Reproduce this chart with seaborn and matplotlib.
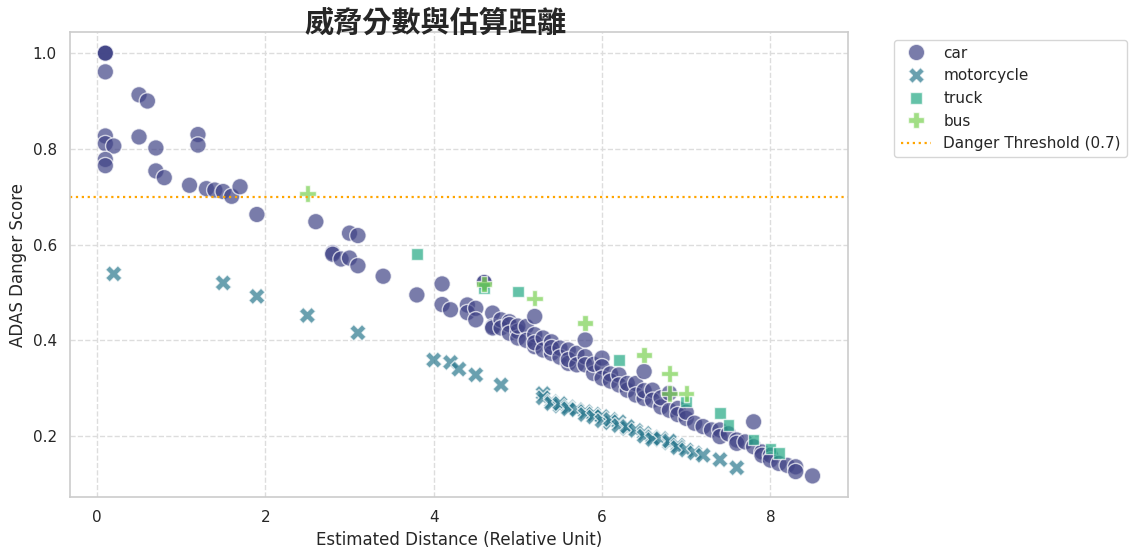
import matplotlib
matplotlib.use("Agg")
import matplotlib.pyplot as plt
import seaborn as sns
import pandas as pd

car_x = [0.1, 0.1, 0.1, 0.1, 0.5, 0.6, 0.1, 0.1, 0.2, 0.1, 0.1, 0.5, 0.7, 1.2, 1.2,
         0.7, 0.8, 1.1, 1.3, 1.4, 1.5, 1.6, 1.7, 1.9, 2.6, 3.0, 3.1, 2.8, 2.8, 2.9,
         3.0, 3.1, 3.4, 3.8, 4.1, 4.1, 4.2,
         4.4, 4.4, 4.5, 4.5, 4.6, 4.6, 4.7, 4.7, 4.7, 4.8, 4.8, 4.9, 4.9, 4.9, 5.0,
         5.0, 5.0, 5.1, 5.1, 5.2, 5.2, 5.2, 5.2, 5.3, 5.3, 5.4, 5.4, 5.4, 5.5, 5.5,
         5.6, 5.6, 5.6, 5.7, 5.7, 5.8, 5.8, 5.8, 5.9, 5.9, 6.0, 6.0, 6.0, 6.1, 6.1,
         6.2, 6.2, 6.3, 6.3, 6.4, 6.4, 6.5, 6.5, 6.5, 6.6, 6.6, 6.7, 6.7, 6.8, 6.8,
         6.9, 6.9, 7.0, 7.0, 7.1, 7.2, 7.3, 7.4, 7.4, 7.5, 7.6, 7.6, 7.7, 7.8, 7.8,
         7.9, 7.9, 8.0, 8.0, 8.1, 8.2, 8.3, 8.3, 8.5]
car_y = [1.0, 1.0, 1.0, 0.961, 0.913, 0.90, 0.827, 0.811, 0.806, 0.778, 0.765, 0.825, 0.802, 0.830, 0.808,
         0.754, 0.740, 0.724, 0.717, 0.714, 0.711, 0.701, 0.721, 0.663, 0.648, 0.624, 0.619, 0.583, 0.580, 0.570,
         0.572, 0.556, 0.534, 0.495, 0.518, 0.475, 0.464,
         0.474, 0.458, 0.467, 0.443, 0.521, 0.521, 0.457, 0.429, 0.426, 0.443, 0.426, 0.439, 0.433, 0.415, 0.419,
         0.405, 0.430, 0.429, 0.400, 0.450, 0.412, 0.387, 0.395, 0.405, 0.380, 0.397, 0.373, 0.385, 0.384, 0.365,
         0.380, 0.352, 0.360, 0.373, 0.349, 0.401, 0.366, 0.349, 0.331, 0.350, 0.363, 0.345, 0.321, 0.330, 0.315,
         0.328, 0.307, 0.296, 0.310, 0.310, 0.286, 0.335, 0.279, 0.295, 0.296, 0.275, 0.261, 0.280, 0.254, 0.290,
         0.258, 0.245, 0.237, 0.250, 0.227, 0.220, 0.213, 0.213, 0.199, 0.205, 0.192, 0.185, 0.188, 0.230, 0.178,
         0.167, 0.160, 0.160, 0.150, 0.143, 0.139, 0.136, 0.126, 0.117]

moto_x = [0.2, 1.5, 1.9, 2.5, 3.1, 4.0, 4.2, 4.3, 4.5, 4.8, 5.3, 5.3, 5.4, 5.4, 5.5, 5.5,
          5.6, 5.6, 5.7, 5.8, 5.8, 5.9, 5.9, 6.0, 6.0, 6.1, 6.1, 6.2, 6.2, 6.3, 6.3, 6.4,
          6.5, 6.5, 6.6, 6.6, 6.7, 6.8, 6.8, 6.9, 6.9, 7.0, 7.1, 7.2, 7.4, 7.6]
moto_y = [0.539, 0.520, 0.492, 0.452, 0.416, 0.359, 0.354, 0.340, 0.328, 0.307, 0.289, 0.280, 0.272, 0.268, 0.263, 0.268,
          0.261, 0.257, 0.255, 0.251, 0.245, 0.246, 0.240, 0.241, 0.232, 0.228, 0.235, 0.230, 0.222, 0.216, 0.220, 0.212,
          0.206, 0.200, 0.198, 0.193, 0.195, 0.186, 0.190, 0.181, 0.176, 0.171, 0.165, 0.160, 0.151, 0.134]

truck_x = [3.8, 4.6, 5.0, 6.2, 7.0, 7.4, 7.5, 7.8, 8.0, 8.1]
truck_y = [0.581, 0.510, 0.502, 0.359, 0.272, 0.249, 0.223, 0.193, 0.174, 0.165]

bus_x = [2.5, 4.6, 5.2, 5.8, 6.5, 6.8, 6.8, 7.0]
bus_y = [0.707, 0.518, 0.488, 0.436, 0.370, 0.331, 0.289, 0.289]

types = ["car", "motorcycle", "truck", "bus"]
threshold = 0.7

df = pd.concat([
    pd.DataFrame({"distance": car_x, "score": car_y, "type": "car"}),
    pd.DataFrame({"distance": moto_x, "score": moto_y, "type": "motorcycle"}),
    pd.DataFrame({"distance": truck_x, "score": truck_y, "type": "truck"}),
    pd.DataFrame({"distance": bus_x, "score": bus_y, "type": "bus"}),
], ignore_index=True)

sns.set_theme(style="whitegrid")
plt.rcParams["font.family"] = ["DejaVu Sans", "Noto Sans CJK TC"]
plt.rcParams["axes.edgecolor"] = "#cccccc"
plt.rcParams["grid.color"] = "#dddddd"
plt.rcParams["grid.linestyle"] = "--"

fig = plt.figure(figsize=(11.29, 5.52), dpi=100)
ax = fig.add_axes([0.062, 0.0996, 0.689, 0.8424])

palette = sns.color_palette("viridis", 4)
sns.scatterplot(data=df, x="distance", y="score", hue="type", style="type",
                hue_order=types, style_order=types, palette=palette,
                s=140, alpha=0.7, edgecolor="white", linewidth=1, ax=ax)
ax.axhline(threshold, color="orange", linestyle=":", linewidth=1.6,
           label="Danger Threshold (0.7)")

ax.set_title("威脅分數與估算距離", fontsize=21, fontweight="bold",
             family=["Noto Sans CJK TC", "DejaVu Sans"], x=0.47, pad=0)
ax.set_xlabel("Estimated Distance (Relative Unit)", fontsize=12)
ax.set_ylabel("ADAS Danger Score", fontsize=12)
ax.tick_params(labelsize=11)
for sp in ax.spines.values():
    sp.set_color("#cccccc")
    sp.set_linewidth(1.2)
ax.legend(bbox_to_anchor=(1.05, 1), loc="upper left", fontsize=11)

fig.savefig("out.png", dpi=100)
